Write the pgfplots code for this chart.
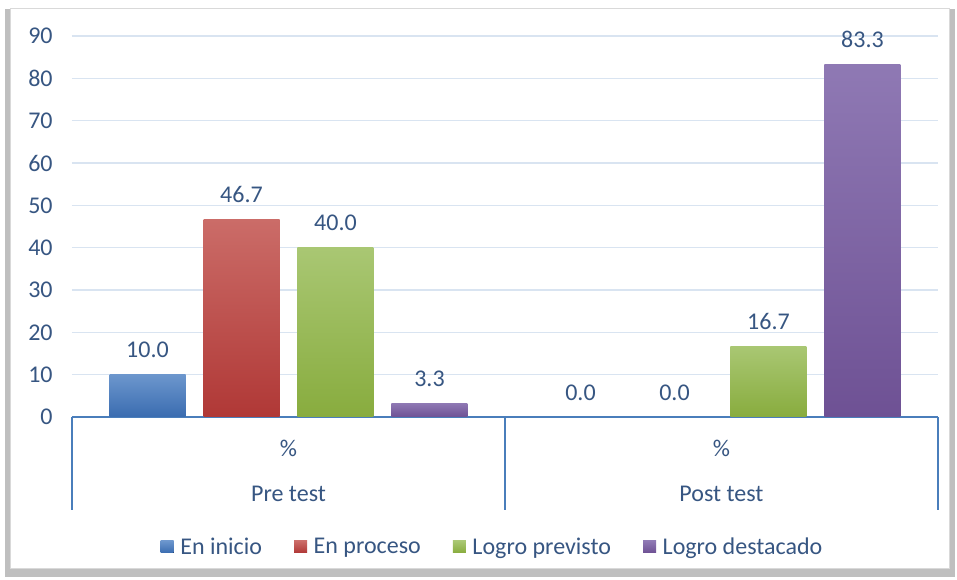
\documentclass[border=0pt]{standalone}
\usepackage{pgfplots}
\pgfplotsset{compat=1.18}
\usepackage{fontspec}
\setmainfont{Carlito}
\definecolor{txt}{RGB}{55,86,130}
\definecolor{gridc}{RGB}{217,228,241}
\definecolor{axisc}{RGB}{74,126,187}
\definecolor{bTop}{RGB}{108,150,205}
\definecolor{bBot}{RGB}{58,108,176}
\definecolor{rTop}{RGB}{203,108,104}
\definecolor{rBot}{RGB}{176,56,54}
\definecolor{gTop}{RGB}{169,199,115}
\definecolor{gBot}{RGB}{136,172,62}
\definecolor{pTop}{RGB}{143,121,180}
\definecolor{pBot}{RGB}{110,81,148}
\newcommand{\fs}{\fontsize{18}{21.6}\selectfont}
\begin{document}
\begin{tikzpicture}
\useasboundingbox (0,0) rectangle (717.75pt,435pt);
\fill[black!25] (3.75pt,2.25pt) rectangle (716.25pt,428.25pt);
\filldraw[fill=white,draw=black!15] (7.5pt,9pt) rectangle (711.75pt,429pt);
\begin{axis}[
  at={(54pt,122.25pt)}, anchor=south west,
  scale only axis, width=649.5pt, height=285.75pt,
  xmin=-0.5, xmax=1.5, ymin=0, ymax=90,
  enlargelimits=false, clip=false,
  ytick={0,10,...,90},
  xtick={0,1},
  xticklabels={{\%\\[12pt]Pre test},{\%\\[12pt]Post test}},
  xticklabel style={align=center, yshift=-14pt},
  axis x line*=bottom, axis y line*=left,
  x axis line style={draw=axisc, line width=0.9pt},
  y axis line style={draw=none},
  major tick length=0pt,
  ymajorgrids, grid style={draw=gridc, line width=0.9pt},
  extra x ticks={-0.5,0.5,1.5}, extra x tick labels={},
  extra x tick style={grid=none, major tick length=69.75pt, tick align=outside,
    tick style={draw=axisc, line width=0.9pt}},
  tick label style={font=\fs, text=txt},
  yticklabel style={xshift=-11pt},
  /pgf/number format/assume math mode=true,
  ybar, bar width=0.1755,
  nodes near coords={\pgfmathprintnumber[fixed,fixed zerofill,precision=1]{\pgfplotspointmeta}},
  nodes near coords style={font=\fs, text=txt, yshift=9pt},
  legend style={font=\fs, text=txt, draw=none, fill=none, at={(0.486,-0.341)}, anchor=center,
    legend columns=4,
    /tikz/every odd column/.append style={column sep=3pt},
    /tikz/every even column/.append style={column sep=22pt}},
  legend image code/.code={\fill[#1] (0pt,-4.5pt) rectangle (9.75pt,4.5pt);},
]
\addplot[bar shift=-0.3256, draw=none, top color=bTop, bottom color=bBot] coordinates {(0,10.0)};
\addplot[bar shift=-0.1085, draw=none, top color=rTop, bottom color=rBot] coordinates {(0,46.7)};
\addplot[bar shift=0.1085, draw=none, top color=gTop, bottom color=gBot] coordinates {(0,40.0)};
\addplot[bar shift=0.3256, draw=none, top color=pTop, bottom color=pBot] coordinates {(0,3.3)};
\legend{En inicio, En proceso, Logro previsto, Logro destacado}
\addplot[forget plot, bar shift=-0.3256, draw=none, fill=none] coordinates {(1,0.0)};
\addplot[forget plot, bar shift=-0.1085, draw=none, fill=none] coordinates {(1,0.0)};
\addplot[forget plot, bar shift=0.1085, draw=none, top color=gTop, bottom color=gBot] coordinates {(1,16.7)};
\addplot[forget plot, bar shift=0.3256, draw=none, top color=pTop, bottom color=pBot] coordinates {(1,83.3)};
\end{axis}
\end{tikzpicture}
\end{document}
